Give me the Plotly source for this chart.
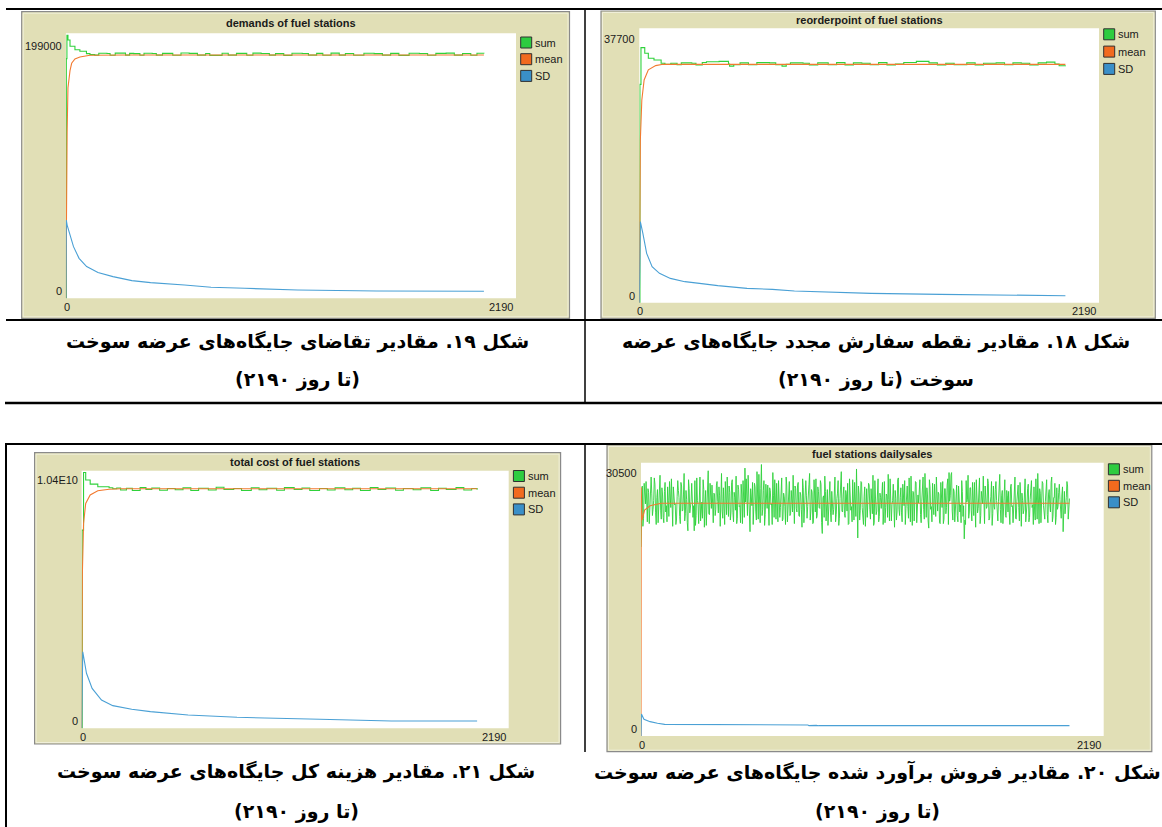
import plotly.graph_objects as go

W, H = 1162, 827

# ---------------- data ----------------
# Fig 19: demands of fuel stations
demand_sum_x = [0, 2, 5, 10, 20, 44, 68, 100, 117, 140, 160, 200, 215, 240, 290, 310, 330, 360, 380, 420,
                440, 470, 520, 560, 600, 640, 680, 700, 760, 790, 830, 880, 910, 950, 990, 1020, 1060,
                1100, 1150, 1180, 1220, 1250, 1290, 1330, 1360, 1400, 1450, 1500, 1540, 1580, 1620,
                1670, 1720, 1760, 1800, 1850, 1890, 1930, 1970, 2000, 2034]
demand_sum_y = [0, 180000, 197500, 194000, 189250, 186700, 185500, 183700, 183000, 182600, 184000, 183800,
                182500, 184100, 182600, 183900, 183700, 182500, 184000, 183800, 182600, 183900, 182500,
                184200, 183900, 182600, 183800, 182400, 184000, 182600, 183900, 182500, 184100, 183800,
                182600, 183700, 182400, 184000, 183800, 182600, 183900, 182500, 184100, 182600, 183800,
                182500, 184000, 183700, 182600, 183900, 182400, 184000, 183800, 182500, 183900, 184100,
                182600, 183800, 182500, 184000, 183800]
demand_mean_x = [0, 3, 6, 10, 20, 28, 44, 68, 117, 300, 2034]
demand_mean_y = [0, 100000, 125000, 158000, 171000, 176500, 179700, 181200, 182500, 182700, 182700]
demand_sd_x = [0, 2, 6, 18, 37, 64, 101, 156, 229, 321, 412, 577, 706, 871, 1127, 1512, 2034]
demand_sd_y = [0, 58800, 55000, 48800, 38800, 30000, 23800, 19300, 16300, 13300, 11800, 10000, 8260,
               7500, 6260, 5500, 5300]

# Fig 18: reorderpoint of fuel stations
reorder_sum_x = [0, 3, 8, 26, 43, 70, 104, 122, 150, 180, 200, 250, 270, 300, 320, 380, 425, 430, 450, 480,
                 520, 560, 620, 650, 680, 700, 720, 780, 810, 850, 900, 940, 980, 1020, 1060, 1100, 1140,
                 1180, 1220, 1260, 1320, 1380, 1420, 1460, 1500, 1560, 1600, 1640, 1700, 1740, 1780,
                 1820, 1860, 1900, 1940, 1980, 2000, 2030]
reorder_sum_y = [0, 30000, 35040, 34270, 33580, 33350, 32900, 32750, 32900, 32700, 32950, 32900, 32650,
                 33000, 33100, 33150, 32800, 32500, 32700, 32950, 32700, 32980, 32950, 32700, 32500,
                 32750, 32950, 32900, 32650, 32950, 32700, 32980, 32650, 32950, 32900, 32700, 32980,
                 32650, 32800, 33000, 33150, 32950, 32650, 32900, 32700, 32950, 32650, 32900, 32950,
                 32700, 32950, 32900, 32650, 32950, 33050, 32800, 32550, 32600]
reorder_mean_x = [0, 2, 5, 12, 23, 43, 78, 113, 2030]
reorder_mean_y = [0, 14100, 22350, 27850, 30600, 32000, 32570, 32750, 32750]
reorder_sd_x = [0, 5, 17, 35, 61, 96, 148, 217, 287, 374, 513, 634, 739, 895, 1104, 1434, 1903, 1910, 2030]
reorder_sd_y = [0, 11130, 9530, 6780, 4950, 4030, 3340, 2890, 2660, 2340, 1970, 1830, 1600, 1420, 1280,
                1150, 1050, 960, 960]

# Fig 20: fuel stations dailysales
# readings on days 0, 6, 12, ...
sales_sum_even = [
    21100, 27900, 24300, 26800, 28400, 23900, 27200, 25100, 28900, 24600,
    26300, 28100, 23600, 27500, 25400, 29100, 24200, 26900, 23800, 28300,
    25700, 27800, 24500, 26200, 28700, 23400, 27100, 25900, 24100, 28500,
    26600, 23700, 27900, 25200, 29300, 24800, 26400, 22900, 27600, 25500,
    28200, 24400, 22900, 23500, 28800, 25800, 27300, 24000, 26100, 28600,
    23300, 27400, 25600, 29600, 24700, 26500, 28000, 23800, 27000, 25300,
    28400, 24900, 26800, 28700, 25100, 27700, 23600, 26300, 28900, 24500,
    27200, 25000, 28600, 23900, 26600, 29000, 24300, 27500, 25700, 28100,
    23700, 26900, 29900, 28700, 24600, 27300, 22800, 26200, 28300, 25600,
    27800, 24100, 26500, 29200, 23800, 30300, 25300, 28500, 24700, 26800,
    28000, 23500, 27400, 25900, 29400, 24400, 26300, 28200, 23900, 27100,
    25500, 28800, 24200, 26700, 23600, 27900, 25200, 28400, 24800, 26100,
    29100, 23700, 27600, 25000, 28300, 24500, 26900, 23300, 27700, 25800,
    28500, 24300, 26400, 29300, 25100, 27200, 23800, 26600, 28700, 24600,
    27300, 25400, 28100, 22600, 26800, 29000, 24000, 27500, 25700, 28400,
    23900, 26200, 25300, 28900, 24700, 27100, 23500, 26500, 29500, 25000,
    27800, 24400, 26900, 28200, 23700, 27400, 25600, 28600, 24100, 26300,
    29800, 22100, 27000, 25200, 28300, 24800, 26700, 23400, 27600, 25900,
    28000, 24200, 26400, 29100, 23800, 27300, 25100, 28700, 24500, 26600,
    27500, 23600, 28400, 25500, 26800, 29200, 24000, 27100, 25800, 28100,
    23300, 26500, 25000, 28800, 24600, 27700, 23900, 26200, 28500, 25400,
    27900, 24300, 26700, 29000, 23500, 27200, 25700, 28300, 24900, 26000,
    28600, 23800, 27400, 25300, 29300, 24400, 26900, 23200, 27800, 25600,
    28200, 24700, 26300, 28900, 25100, 27000, 23700, 26600, 28400, 24200,
    27600, 25500, 28700, 29400, 26800, 29400, 24100, 27300, 25200, 28000,
    23900, 26400, 25800, 28500, 24500, 22000, 23600, 26100, 29100, 25000,
    27700, 24000, 26900, 28300, 23300, 27200, 25400, 28800, 24600, 26500,
    29000, 23700, 27100, 25600, 28200, 24300, 26700, 23500, 27900, 25300,
    28400, 24800, 26200, 29200, 23800, 27400, 25100, 28600, 24400, 26800,
    27300, 23600, 28100, 25700, 26600, 28900, 24200, 27000, 25500, 28300,
    23400, 26300, 25200, 28700, 24700, 27600, 23900, 26400, 28500, 25800,
    27800, 24100, 26800, 29300, 23700, 27100, 25300, 28200, 24900, 26200,
    28600, 23800, 27500, 25000, 28900, 24500, 26600, 23600, 27700, 25600,
    28100, 24600, 26900, 22800, 27300, 25400, 28400, 24200, 26500]
# readings on days 3, 9, 15, ...
sales_sum_odd = [
    25800, 23400, 28200, 25900, 24700, 27600, 23700, 26400, 27100, 25300,
    28800, 24900, 26600, 23800, 28100, 25200, 27700, 24400, 27300, 25000,
    23900, 26300, 28400, 25500, 24200, 27800, 25800, 23600, 26700, 27400,
    24500, 28300, 25100, 26900, 24000, 27400, 23800, 28600, 24900, 26200,
    27000, 25700, 28500, 24600, 26300, 23700, 28900, 26100, 24300, 27500,
    25900, 23500, 27300, 24800, 28200, 25400, 23900, 27100, 24600, 28000,
    26200, 27800, 23400, 29300, 24300, 25900, 28400, 24700, 26500, 27900,
    24100, 28300, 24900, 27200, 25200, 23700, 28000, 25600, 23800, 26900,
    28500, 24400, 26100, 25300, 29100, 24000, 27600, 25700, 23600, 28200,
    25100, 29500, 24200, 26500, 27600, 24600, 27400, 23500, 28100, 25400,
    24900, 27700, 25800, 23600, 26800, 28600, 24200, 25300, 28500, 24400,
    28200, 24000, 27100, 25600, 28900, 23900, 26700, 24600, 27400, 25000,
    24300, 27900, 25400, 28000, 24600, 27200, 25300, 28700, 23800, 26400,
    26800, 25600, 28100, 24100, 27500, 23700, 28600, 25000, 24300, 27800,
    25500, 28500, 23800, 26600, 24400, 27300, 25800, 23500, 28200, 24900,
    27300, 24700, 28000, 23900, 26500, 28500, 24300, 27700, 25100, 26900,
    24800, 27400, 25100, 23600, 28700, 25200, 23900, 26700, 28300, 24500,
    26000, 27900, 24100, 28400, 25500, 23600, 27800, 25800, 24400, 28200,
    25300, 27600, 24800, 23500, 28500, 24700, 26800, 23900, 27100, 25400,
    28300, 25100, 23800, 27000, 24400, 26400, 28700, 24000, 26300, 23700,
    27400, 24100, 28600, 25300, 26600, 24900, 28100, 25700, 23600, 27500,
    25600, 28800, 23900, 26500, 27300, 24000, 28400, 23800, 26900, 28000,
    24700, 26200, 28900, 24200, 25900, 27700, 24000, 28600, 25300, 23900,
    25700, 28100, 24500, 26000, 27200, 23800, 28300, 25500, 23700, 27600,
    24800, 28000, 23600, 26200, 29100, 25100, 27600, 23900, 26700, 24600,
    27900, 25000, 23800, 27300, 25700, 24100, 28500, 26400, 24300, 27700,
    25200, 28300, 24600, 23500, 28600, 24900, 26800, 23700, 27300, 25900,
    24500, 27900, 25400, 28700, 24100, 26000, 28400, 24800, 25600, 27500,
    26300, 24000, 28700, 25300, 26800, 23700, 28100, 24600, 27400, 25000,
    24900, 27800, 25600, 23800, 28500, 24300, 26200, 28000, 24000, 26900,
    27100, 24800, 28300, 23900, 25900, 28100, 24400, 27300, 25500, 23600,
    25000, 28700, 24200, 26100, 27600, 23800, 28400, 25700, 24200, 27900,
    24700, 27000, 25800, 28300, 23900, 26600, 28200, 24400, 25300, 27200,
    26400, 24300, 27800, 25100, 24800, 26600, 27900, 25200]
sales_sum_y = []
for k, v in enumerate(sales_sum_even):
    sales_sum_y.append(v)
    if k < len(sales_sum_odd):
        sales_sum_y.append(sales_sum_odd[k])
sales_sum_x = [3 * i for i in range(len(sales_sum_y))]
sales_mean_x = [0, 1, 5, 17, 43, 95, 2028]
sales_mean_y = [0, 27750, 24100, 25220, 25700, 25970, 25970]
sales_sd_x = [0, 2, 14, 43, 78, 112, 790, 795, 830, 840, 2028]
sales_sd_y = [0, 2455, 1860, 1600, 1414, 1300, 1228, 1153, 1190, 1153, 1153]

# Fig 21: total cost of fuel stations
cost_sum_x = [0, 3, 10, 21, 44, 83, 141, 160, 180, 200, 230, 260, 300, 330, 360, 400, 440, 480, 520, 560,
              600, 650, 690, 730, 780, 820, 870, 910, 950, 1000, 1040, 1090, 1130, 1170, 1220, 1260,
              1300, 1350, 1390, 1430, 1480, 1520, 1560, 1610, 1650, 1700, 1740, 1790, 1830, 1870,
              1920, 1960, 2000, 2028]
cost_sum_y = [0, 8.0e9, 1.033e10, 1.0023e10, 9.86e9, 9.754e9, 9.71e9, 9.674e9, 9.70e9, 9.62e9, 9.69e9,
              9.60e9, 9.72e9, 9.64e9, 9.70e9, 9.61e9, 9.68e9, 9.63e9, 9.71e9, 9.60e9, 9.69e9, 9.62e9,
              9.73e9, 9.64e9, 9.68e9, 9.60e9, 9.71e9, 9.63e9, 9.69e9, 9.61e9, 9.72e9, 9.64e9, 9.70e9,
              9.60e9, 9.68e9, 9.62e9, 9.71e9, 9.63e9, 9.69e9, 9.60e9, 9.72e9, 9.64e9, 9.70e9, 9.61e9,
              9.68e9, 9.63e9, 9.71e9, 9.60e9, 9.69e9, 9.64e9, 9.72e9, 9.62e9, 9.68e9, 9.63e9]
cost_mean_x = [0, 2, 4, 10, 21, 44, 83, 141, 200, 2028]
cost_mean_y = [0, 3.5e9, 6.26e9, 8.27e9, 9.08e9, 9.42e9, 9.59e9, 9.65e9, 9.674e9, 9.674e9]
cost_sd_x = [0, 6, 25, 54, 102, 160, 257, 353, 546, 797, 1221, 1588, 2028]
cost_sd_y = [0, 3.09e9, 2.22e9, 1.61e9, 1.14e9, 9.15e8, 7.67e8, 6.73e8, 5.38e8, 4.44e8, 3.63e8, 2.96e8,
             2.96e8]

plot_titles = ["demands of fuel stations", "reorderpoint of fuel stations",
               "fuel stations dailysales", "total cost of fuel stations"]
y_max_values = [199000, 37700, 30500, 1.04e10]
y_max_labels = ["199000", "37700", "30500", "1.04E10"]
x_max_value = 2190
x_tick_labels = ["0", "2190"]
series_names = ["sum", "mean", "SD"]

captions = [
    ["شکل ۱۹. مقادیر تقاضای جایگاه\u200cهای عرضه سوخت", "(تا روز ۲۱۹۰)"],
    ["شکل ۱۸. مقادیر نقطه سفارش مجدد جایگاه\u200cهای عرضه", "سوخت (تا روز ۲۱۹۰)"],
    ["شکل ۲۰. مقادیر فروش برآورد شده جایگاه\u200cهای عرضه سوخت", "(تا روز ۲۱۹۰)"],
    ["شکل ۲۱. مقادیر هزینه کل جایگاه\u200cهای عرضه سوخت", "(تا روز ۲۱۹۰)"],
]

series = [
    [(demand_sum_x, demand_sum_y), (demand_mean_x, demand_mean_y), (demand_sd_x, demand_sd_y)],
    [(reorder_sum_x, reorder_sum_y), (reorder_mean_x, reorder_mean_y), (reorder_sd_x, reorder_sd_y)],
    [(sales_sum_x, sales_sum_y), (sales_mean_x, sales_mean_y), (sales_sd_x, sales_sd_y)],
    [(cost_sum_x, cost_sum_y), (cost_mean_x, cost_mean_y), (cost_sd_x, cost_sd_y)],
]

# ---------------- layout geometry (pixels) ----------------
geo = [
    dict(plot=(65.9, 33.3, 516.0, 298.3), panel=(21.7, 11.7, 569.5, 318.3), title_y=23.3,
         leg_y=42.5, leg_dy=16.7, ytop_dy=12.4, cap=(297, 341.7, 380), sum_shape="hv", sum_w=1.1),
    dict(plot=(639.3, 28.3, 1099.0, 302.7), panel=(601.0, 11.0, 1155.3, 318.3), title_y=20.0,
         leg_y=34.3, leg_dy=17.3, ytop_dy=10.7, cap=(876, 341.7, 380), sum_shape="hv", sum_w=1.1),
    dict(plot=(641.0, 462.7, 1103.7, 736.0), panel=(607.0, 445.0, 1151.8, 751.7), title_y=454.0,
         leg_y=469.3, leg_dy=16.5, ytop_dy=10.0, cap=(877, 771.7, 811.7), sum_shape="linear", sum_w=0.9),
    dict(plot=(81.6, 470.7, 508.7, 728.3), panel=(34.6, 452.7, 560.6, 744.0), title_y=462.0,
         leg_y=476.0, leg_dy=16.7, ytop_dy=9.6, cap=(296, 771.7, 811.7), sum_shape="hv", sum_w=1.1),
]

def px(x):
    return x / W

def py(y):
    return 1 - y / H

line_colors = ["#2fd13b", "#f27a30", "#4aa0d5"]
square_colors = ["#2ecc40", "#f26a1e", "#3a8fc8"]
beige = "#e1dfb6"
nl_font = dict(family="Liberation Sans, Arial, sans-serif", size=11, color="#1a1a1a")

fig = go.Figure()
shapes = []
annotations = []
layout_axes = {}

for i, g in enumerate(geo):
    n = "" if i == 0 else str(i + 1)
    L, T, R, B = g["plot"]
    pL, pT, pR, pB = g["panel"]
    layout_axes["xaxis" + n] = dict(domain=[px(L), px(R)], range=[0, x_max_value], anchor="y" + n,
                                    showgrid=False, zeroline=False, showticklabels=False,
                                    ticks="", showline=False, fixedrange=True)
    layout_axes["yaxis" + n] = dict(domain=[py(B), py(T)], range=[0, y_max_values[i]], anchor="x" + n,
                                    showgrid=False, zeroline=False, showticklabels=False,
                                    ticks="", showline=False, fixedrange=True)
    shapes_k = [g["sum_shape"], "linear", "linear"]
    widths_k = [g["sum_w"], 1.1, 1.1]
    for k, (xs, ys) in enumerate(series[i]):
        fig.add_trace(go.Scatter(x=xs, y=ys, mode="lines", name=series_names[k],
                                 line=dict(color=line_colors[k], width=widths_k[k], shape=shapes_k[k]),
                                 xaxis="x" + n, yaxis="y" + n, showlegend=False, hoverinfo="skip"))
    # panel background and border
    shapes.append(dict(type="rect", xref="paper", yref="paper", x0=px(pL), x1=px(pR), y0=py(pB), y1=py(pT),
                       fillcolor=beige, line=dict(color="#8a8a8a", width=1.2), layer="below"))
    shapes.append(dict(type="rect", xref="paper", yref="paper", x0=px(pL + 1.5), x1=px(pR - 1.5),
                       y0=py(pB - 1.5), y1=py(pT + 1.5), fillcolor="rgba(0,0,0,0)",
                       line=dict(color="#f4f3e2", width=0.8), layer="below"))
    shapes.append(dict(type="rect", xref="paper", yref="paper", x0=px(L), x1=px(R), y0=py(B), y1=py(T),
                       fillcolor="white", line=dict(width=0), layer="below"))
    # title
    annotations.append(dict(text="<b>" + plot_titles[i] + "</b>", xref="paper", yref="paper",
                            x=px((L + R) / 2), y=py(g["title_y"]), xanchor="center", yanchor="middle",
                            showarrow=False, font=nl_font))
    # axis labels
    annotations.append(dict(text=y_max_labels[i], xref="paper", yref="paper", x=px(L - 2),
                            y=py(T + g["ytop_dy"]), xanchor="right", yanchor="middle",
                            showarrow=False, font=nl_font))
    annotations.append(dict(text="0", xref="paper", yref="paper", x=px(L - 2), y=py(B - 7),
                            xanchor="right", yanchor="middle", showarrow=False, font=nl_font))
    annotations.append(dict(text=x_tick_labels[0], xref="paper", yref="paper", x=px(L + 1), y=py(B + 8.5),
                            xanchor="center", yanchor="middle", showarrow=False, font=nl_font))
    annotations.append(dict(text=x_tick_labels[1], xref="paper", yref="paper", x=px(R - 1), y=py(B + 8.5),
                            xanchor="right", yanchor="middle", showarrow=False, font=nl_font))
    # legend (NetLogo style squares)
    for k in range(3):
        cy = g["leg_y"] + k * g["leg_dy"]
        sx0 = R + 4.7
        shapes.append(dict(type="rect", xref="paper", yref="paper", x0=px(sx0), x1=px(sx0 + 11),
                           y0=py(cy + 5.5), y1=py(cy - 5.5), fillcolor=square_colors[k],
                           line=dict(color="#303030", width=1), layer="above"))
        annotations.append(dict(text=series_names[k], xref="paper", yref="paper", x=px(sx0 + 12.5),
                                y=py(cy), xanchor="left", yanchor="middle", showarrow=False,
                                font=nl_font))
    # captions
    cx, cy1, cy2 = g["cap"]
    for text, cyy in ((captions[i][0], cy1), (captions[i][1], cy2)):
        annotations.append(dict(text="<b>\u200f" + text + "\u200f</b>", xref="paper", yref="paper",
                                x=px(cx), y=py(cyy), xanchor="center", yanchor="middle", showarrow=False,
                                font=dict(family="DejaVu Sans", size=19, color="black")))

# table rules
def hline(y, x0, x1, w):
    return dict(type="line", xref="paper", yref="paper", x0=px(x0), x1=px(x1), y0=py(y), y1=py(y),
                line=dict(color="black", width=w), layer="above")

def vline(x, y0, y1, w):
    return dict(type="line", xref="paper", yref="paper", x0=px(x), x1=px(x), y0=py(y0), y1=py(y1),
                line=dict(color="black", width=w), layer="above")

shapes += [
    hline(9, 6, W, 2.2),
    hline(320, 6, W, 2.0),
    hline(403, 5, W, 2.4),
    vline(585, 9, 403, 1.5),
    hline(444, 5, W, 2.2),
    vline(585, 444, 752, 1.5),
    vline(6, 444, H, 2.0),
]

fig.update_layout(width=W, height=H, margin=dict(l=0, r=0, t=0, b=0), autosize=False,
                  paper_bgcolor="white", plot_bgcolor="white", showlegend=False,
                  shapes=shapes, annotations=annotations, **layout_axes)

fig.write_html("out.html", config={"displayModeBar": False},
               post_script="document.body.style.margin='0px';document.body.style.overflow='hidden';")
